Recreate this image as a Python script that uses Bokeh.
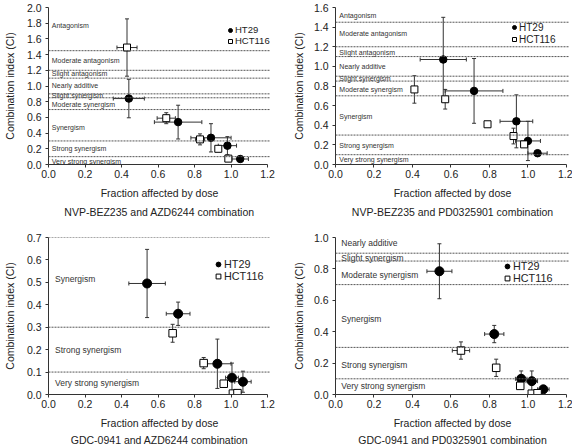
from bokeh.plotting import figure
from bokeh.models import (ColumnDataSource, Whisker, TeeHead, Span, Legend, LegendItem,
                          FixedTicker, PrintfTickFormatter, Range1d)
from bokeh.layouts import gridplot
from bokeh.core.properties import value
from bokeh.embed import file_html
from bokeh.resources import INLINE

FONT = "Liberation Sans"

# ---------------- data ----------------
X_TICKS = [0.0, 0.2, 0.4, 0.6, 0.8, 1.0, 1.2]

# Panel A: NVP-BEZ235 and AZD6244
a_title = "NVP-BEZ235 and AZD6244 combination"
a_y_ticks = [0.0, 0.2, 0.4, 0.6, 0.8, 1.0, 1.2, 1.4, 1.6, 1.8, 2.0]
a_ht29_fa = [0.44, 0.71, 0.89, 0.98, 1.05]
a_ht29_ci = [0.84, 0.54, 0.34, 0.24, 0.07]
a_ht29_fa_err = [0.085, 0.13, 0.11, 0.05, 0.045]
a_ht29_ci_err = [0.245, 0.215, 0.18, 0.115, 0.0]
a_hct116_fa = [0.43, 0.645, 0.83, 0.93, 0.985]
a_hct116_ci = [1.49, 0.59, 0.32, 0.20, 0.075]
a_hct116_fa_err = [0.055, 0.05, 0.025, 0.0, 0.0]
a_hct116_ci_err = [0.365, 0.07, 0.07, 0.0, 0.0]
a_bounds = [1.45, 1.2, 1.1, 0.9, 0.85, 0.7, 0.3, 0.1]
a_regions = ["Antagonism", "Moderate antagonism", "Slight antagonism", "Nearly additive",
             "Slight synergism", "Moderate synergism", "Synergism", "Strong synergism",
             "Very strong synergism"]
a_region_y = [1.77, 1.33, 1.16, 1.01, 0.875, 0.77, 0.47, 0.21, 0.04]

# Panel B: NVP-BEZ235 and PD0325901
b_title = "NVP-BEZ235 and PD0325901 combination"
b_y_ticks = [0.0, 0.2, 0.4, 0.6, 0.8, 1.0, 1.2, 1.4, 1.6]
b_ht29_fa = [0.56, 0.72, 0.94, 1.0, 1.05]
b_ht29_ci = [1.07, 0.75, 0.44, 0.24, 0.115]
b_ht29_fa_err = [0.12, 0.15, 0.085, 0.065, 0.05]
b_ht29_ci_err = [0.43, 0.33, 0.27, 0.2, 0.0]
b_hct116_fa = [0.41, 0.57, 0.79, 0.925, 0.98]
b_hct116_ci = [0.765, 0.665, 0.41, 0.29, 0.205]
b_hct116_fa_err = [0.0, 0.0, 0.0, 0.0, 0.0]
b_hct116_ci_err = [0.14, 0.1, 0.0, 0.08, 0.0]
b_bounds = [1.45, 1.2, 1.1, 0.9, 0.85, 0.7, 0.3, 0.1]
b_regions = a_regions
b_region_y = [1.52, 1.33, 1.145, 1.0, 0.88, 0.76, 0.49, 0.19, 0.05]

# Panel C: GDC-0941 and AZD6244
c_title = "GDC-0941 and AZD6244 combination"
c_y_ticks = [0.0, 0.1, 0.2, 0.3, 0.4, 0.5, 0.6, 0.7]
c_ht29_fa = [0.54, 0.71, 0.925, 1.005, 1.065]
c_ht29_ci = [0.495, 0.36, 0.137, 0.075, 0.057]
c_ht29_fa_err = [0.1, 0.065, 0.075, 0.035, 0.045]
c_ht29_ci_err = [0.152, 0.052, 0.11, 0.065, 0.047]
c_hct116_fa = [0.68, 0.85, 0.96, 1.01, 1.035]
c_hct116_ci = [0.273, 0.14, 0.048, 0.004, 0.006]
c_hct116_fa_err = [0.0, 0.02, 0.0, 0.0, 0.0]
c_hct116_ci_err = [0.04, 0.025, 0.0, 0.0, 0.0]
c_bounds = [0.7, 0.3, 0.1]
c_regions = ["Synergism", "Strong synergism", "Very strong synergism"]
c_region_y = [0.513, 0.20, 0.053]

# Panel D: GDC-0941 and PD0325901
d_title = "GDC-0941 and PD0325901 combination"
d_y_ticks = [0.0, 0.2, 0.4, 0.6, 0.8, 1.0]
d_ht29_fa = [0.54, 0.825, 0.965, 1.02, 1.08]
d_ht29_ci = [0.785, 0.385, 0.1, 0.085, 0.033]
d_ht29_fa_err = [0.065, 0.05, 0.03, 0.03, 0.03]
d_ht29_ci_err = [0.175, 0.055, 0.05, 0.065, 0.0]
d_hct116_fa = [0.652, 0.835, 0.96, 1.02, 1.05]
d_hct116_ci = [0.28, 0.17, 0.055, 0.005, 0.008]
d_hct116_fa_err = [0.045, 0.0, 0.0, 0.0, 0.0]
d_hct116_ci_err = [0.055, 0.055, 0.0, 0.0, 0.0]
d_bounds = [0.9, 0.85, 0.7, 0.3, 0.1]
d_regions = ["Nearly additive", "Slight synergism", "Moderate synergism", "Synergism",
             "Strong synergism", "Very strong synergism"]
d_region_y = [0.966, 0.867, 0.762, 0.478, 0.19, 0.053]

AX = "#333333"
X_END = 1.216


def make_src(fa, ci, fa_err, ci_err):
    return ColumnDataSource(dict(
        fa=fa, ci=ci,
        fa_lo=[f - e for f, e in zip(fa, fa_err)], fa_hi=[f + e for f, e in zip(fa, fa_err)],
        ci_lo=[c - e for c, e in zip(ci, ci_err)], ci_hi=[c + e for c, e in zip(ci, ci_err)],
    ))


def panel(title, y_ticks, bounds, regions, region_y, region_x, region_size,
          ht, hc, left, right, top, bottom, title_standoff, ylab_standoff,
          circ_size, sq_size, leg_loc, leg_gw, leg_gh, leg_font):
    ymax = y_ticks[-1]
    p = figure(width=286, height=223, x_range=Range1d(0, X_END), y_range=Range1d(0, ymax),
               output_backend="svg", toolbar_location=None, title_location="below",
               min_border_left=left, min_border_right=right,
               min_border_top=top, min_border_bottom=bottom)
    p.outline_line_color = None
    p.xgrid.visible = False
    p.ygrid.visible = False
    p.background_fill_color = "white"

    p.xaxis.ticker = FixedTicker(ticks=X_TICKS)
    p.xaxis.bounds = (X_TICKS[0], X_TICKS[-1])
    p.yaxis.ticker = FixedTicker(ticks=y_ticks)
    for ax in (p.xaxis, p.yaxis):
        ax.formatter = PrintfTickFormatter(format="%.1f")
        ax.axis_line_color = AX
        ax.major_tick_line_color = AX
        ax.minor_tick_line_color = None
        ax.major_tick_in = 0
        ax.major_tick_out = 3
        ax.major_label_text_font = FONT
        ax.major_label_text_font_size = "10.5px"
        ax.major_label_text_color = "#222222"
        ax.axis_label_text_font = FONT
        ax.axis_label_text_font_size = "10.5px"
        ax.axis_label_text_font_style = "normal"
        ax.axis_label_text_color = "#222222"
    p.xaxis.axis_label = "Fraction affected by dose"
    p.yaxis.axis_label = "Combination index (CI)"
    p.xaxis.major_label_standoff = 2
    p.xaxis.axis_label_standoff = 6
    p.yaxis.major_label_standoff = 4
    p.yaxis.axis_label_standoff = ylab_standoff

    p.title.text = title
    p.title.align = "center"
    p.title.text_font = FONT
    p.title.text_font_size = "10.5px"
    p.title.text_font_style = "normal"
    p.title.text_color = "#222222"
    p.title.standoff = title_standoff

    for b in bounds:
        p.add_layout(Span(location=b, dimension="width", line_color="#555555",
                          line_width=1, line_dash="2 1"))

    p.text(x=[region_x] * len(regions), y=region_y, text=regions,
           text_font=value(FONT), text_font_size=region_size,
           text_baseline="middle", text_align="left", text_color="#333333")

    src_ht = make_src(*ht)
    src_hc = make_src(*hc)
    for src in (src_ht, src_hc):
        for dim, base, lo, hi in (("height", "fa", "ci_lo", "ci_hi"), ("width", "ci", "fa_lo", "fa_hi")):
            w = Whisker(source=src, base=base, lower=lo, upper=hi, dimension=dim,
                        line_color="#333333", line_width=1,
                        upper_head=TeeHead(size=4, line_color="#333333", line_width=1),
                        lower_head=TeeHead(size=4, line_color="#333333", line_width=1))
            p.add_layout(w)

    r_ht = p.scatter(x="fa", y="ci", source=src_ht, marker="circle", size=circ_size,
                     fill_color="black", line_color="black")
    r_hc = p.scatter(x="fa", y="ci", source=src_hc, marker="square", size=sq_size,
                     fill_color="white", line_color="black", line_width=1)

    leg = Legend(items=[LegendItem(label="HT29", renderers=[r_ht]),
                        LegendItem(label="HCT116", renderers=[r_hc])],
                 location=leg_loc, orientation="vertical",
                 border_line_color=None, background_fill_alpha=0,
                 padding=0, margin=0, spacing=0,
                 glyph_width=leg_gw, glyph_height=leg_gh, label_height=leg_gh,
                 label_standoff=0, label_text_font=FONT, label_text_font_size=leg_font,
                 label_text_color="#222222")
    p.add_layout(leg)
    return p


p1 = panel(a_title, a_y_ticks, a_bounds, a_regions, a_region_y, 0.018, "7px",
           (a_ht29_fa, a_ht29_ci, a_ht29_fa_err, a_ht29_ci_err),
           (a_hct116_fa, a_hct116_ci, a_hct116_fa_err, a_hct116_ci_err),
           left=42, right=16, top=7, bottom=59, title_standoff=4, ylab_standoff=8,
           circ_size=7.5, sq_size=7, leg_loc=(177, 118), leg_gw=10, leg_gh=10, leg_font="9.5px")
p2 = panel(b_title, b_y_ticks, b_bounds, b_regions, b_region_y, 0.02, "7px",
           (b_ht29_fa, b_ht29_ci, b_ht29_fa_err, b_ht29_ci_err),
           (b_hct116_fa, b_hct116_ci, b_hct116_fa_err, b_hct116_ci_err),
           left=49, right=3, top=7, bottom=59, title_standoff=4, ylab_standoff=6,
           circ_size=7.5, sq_size=7, leg_loc=(174, 119), leg_gw=10, leg_gh=12, leg_font="10px")
p3 = panel(c_title, c_y_ticks, c_bounds, c_regions, c_region_y, 0.036, "8.5px",
           (c_ht29_fa, c_ht29_ci, c_ht29_fa_err, c_ht29_ci_err),
           (c_hct116_fa, c_hct116_ci, c_hct116_fa_err, c_hct116_ci_err),
           left=42, right=16, top=14, bottom=52, title_standoff=0, ylab_standoff=8,
           circ_size=9, sq_size=7.5, leg_loc=(164, 112), leg_gw=12, leg_gh=12, leg_font="10.8px")
p4 = panel(d_title, d_y_ticks, d_bounds, d_regions, d_region_y, 0.03, "8.5px",
           (d_ht29_fa, d_ht29_ci, d_ht29_fa_err, d_ht29_ci_err),
           (d_hct116_fa, d_hct116_ci, d_hct116_fa_err, d_hct116_ci_err),
           left=49, right=3, top=14, bottom=52, title_standoff=0, ylab_standoff=6,
           circ_size=9, sq_size=7.5, leg_loc=(166, 110), leg_gw=12, leg_gh=12, leg_font="10.8px")

grid = gridplot([[p1, p2], [p3, p4]], toolbar_location=None)

open("out.html", "w").write(file_html(grid, INLINE))
